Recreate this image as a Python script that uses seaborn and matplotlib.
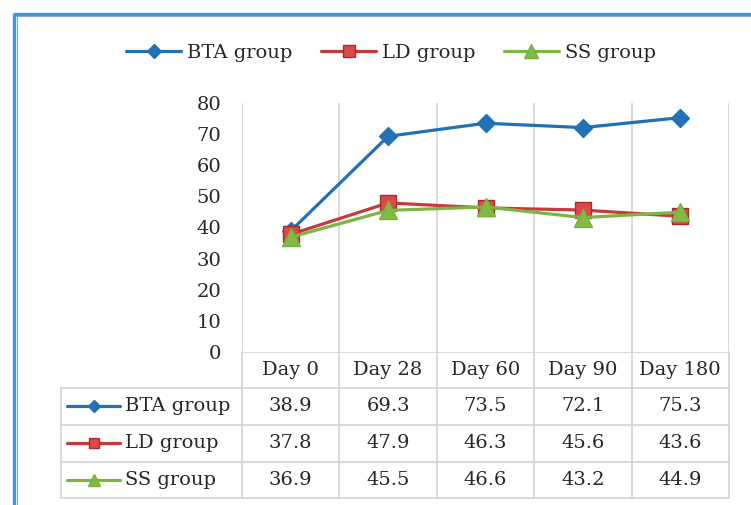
import numpy as np
import pandas as pd
import matplotlib
matplotlib.use("Agg")
import matplotlib.pyplot as plt
import seaborn as sns
from matplotlib.lines import Line2D
from matplotlib.transforms import blended_transform_factory

# ---- data -------------------------------------------------------------
days = ["Day 0", "Day 28", "Day 60", "Day 90", "Day 180"]
groups = ["BTA group", "LD group", "SS group"]
bta_values = [38.9, 69.3, 73.5, 72.1, 75.3]
ld_values = [37.8, 47.9, 46.3, 45.6, 43.6]
ss_values = [36.9, 45.5, 46.6, 43.2, 44.9]
y_ticks = [0, 10, 20, 30, 40, 50, 60, 70, 80]

# ---- styling ----------------------------------------------------------
line_colors = {"BTA group": "#2270B5", "LD group": "#C63A3A", "SS group": "#7DB544"}
face_colors = {"BTA group": "#2270B5", "LD group": "#DC4A48", "SS group": "#82BA46"}
edge_colors = {"BTA group": "#2270B5", "LD group": "#A82A2A", "SS group": "#78B040"}
markers = {"BTA group": "D", "LD group": "s", "SS group": "^"}
chart_ms = {"BTA group": 9.5, "LD group": 12.0, "SS group": 13.5}
small_ms = {"BTA group": 7.0, "LD group": 9.0, "SS group": 10.0}
grid_col = "#D4D4D4"
text_col = "#262626"
font_size = 14

sns.set_theme(style="white")
plt.rcParams["font.family"] = ["DejaVu Serif", "DejaVu Sans"]

W, H = 751, 505
fig = plt.figure(figsize=(W / 100, H / 100), dpi=100)
fig.patch.set_facecolor("white")


def px_rect(left, top, right, bottom):
    return [left / W, 1 - bottom / H, (right - left) / W, (bottom - top) / H]


# ---- line chart -------------------------------------------------------
ax = fig.add_axes(px_rect(242, 103, 729, 352))
df = pd.DataFrame({
    "day": days * 3,
    "group": np.repeat(groups, len(days)),
    "value": bta_values + ld_values + ss_values,
})
sns.pointplot(
    data=df, x="day", y="value", hue="group",
    order=days, hue_order=groups,
    palette=[line_colors[g] for g in groups],
    markers=[markers[g] for g in groups],
    linestyles="-", errorbar=None, dodge=False, legend=False,
    linewidth=2.3, ax=ax,
)
series_lines = [ln for ln in ax.lines if len(ln.get_xdata()) == len(days)]
for ln, g in zip(series_lines, groups):
    ln.set_color(line_colors[g])
    ln.set_markerfacecolor(face_colors[g])
    ln.set_markeredgecolor(edge_colors[g])
    ln.set_markeredgewidth(1.0)
    ln.set_markersize(chart_ms[g])
    ln.set_linewidth(2.3)

ax.set_xlim(-0.5, len(days) - 0.5)
ax.set_ylim(0, 80)
ax.set_yticks(y_ticks)
ax.set_xticks([])
ax.set_xlabel("")
ax.set_ylabel("")
ax.tick_params(axis="y", length=0, pad=15, labelsize=font_size, labelcolor=text_col)
for s in ax.spines.values():
    s.set_visible(False)
for i in range(len(days) + 1):
    ax.axvline(i - 0.5, color=grid_col, lw=1.2, zorder=0)

# ---- overlay for the data table and frame --------------------------------
ov = fig.add_axes([0, 0, 1, 1], zorder=-1)
ov.set_xlim(0, W)
ov.set_ylim(H, 0)
ov.axis("off")
ov.patch.set_visible(False)
tr = blended_transform_factory(ax.transData, ov.transData)

table_left = 61
header_top, header_bottom = 352, 388
row_edges = [388, 424.5, 461.5, 498]

# vertical cell borders below the chart
for i in range(len(days) + 1):
    ov.plot([i - 0.5, i - 0.5], [header_top, row_edges[-1]], color=grid_col, lw=1.2, transform=tr)
ov.plot([table_left, table_left], [row_edges[0], row_edges[-1]], color=grid_col, lw=1.2)
# horizontal borders
ov.plot([-0.5, len(days) - 0.5], [header_top, header_top], color=grid_col, lw=1.2, transform=tr)
right_px = ax.transData.transform((len(days) - 0.5, 0))[0]
for y in row_edges:
    ov.plot([table_left, right_px], [y, y], color=grid_col, lw=1.2)

# header labels
for i, d in enumerate(days):
    ov.text(i, (header_top + header_bottom) / 2, d, transform=tr, ha="center", va="center",
            fontsize=font_size, color=text_col)

# rows
all_values = {"BTA group": bta_values, "LD group": ld_values, "SS group": ss_values}
for r, g in enumerate(groups):
    yc = (row_edges[r] + row_edges[r + 1]) / 2
    ov.plot([67, 120], [yc, yc], color=line_colors[g], lw=2.3, solid_capstyle="round")
    ov.plot([93.5], [yc], marker=markers[g], ms=small_ms[g] * 0.85,
            mfc=face_colors[g], mec=edge_colors[g], mew=1.0, ls="none")
    ov.text(125, yc, g, ha="left", va="center", fontsize=font_size, color=text_col)
    for i, v in enumerate(all_values[g]):
        ov.text(i, yc, f"{v:.1f}", transform=tr, ha="center", va="center",
                fontsize=font_size, color=text_col)

# ---- legend -----------------------------------------------------------
handles = [
    Line2D([0], [0], color=line_colors[g], lw=2.3, marker=markers[g], ms=small_ms[g],
           mfc=face_colors[g], mec=edge_colors[g], mew=1.0)
    for g in groups
]
fig.legend(handles, groups, loc="center", bbox_to_anchor=(391 / W, 1 - 53 / H), ncol=3,
           frameon=False, fontsize=font_size, handlelength=2.8, handletextpad=0.3,
           columnspacing=1.5, labelcolor=text_col)

# ---- outer frame ------------------------------------------------------
ov.plot([14, 14], [14, H + 5], color="#2F9BE0", lw=2.4, solid_capstyle="butt")
ov.plot([13, W + 5], [13.5, 13.5], color="#2F9BE0", lw=2.4, solid_capstyle="butt")
ov.plot([16.5, 16.5], [16, H + 5], color="#8FA9CC", lw=0.8)
ov.plot([16, W + 5], [16, 16], color="#8FA9CC", lw=0.8)

fig.savefig("out.png", dpi=100, facecolor="white")
